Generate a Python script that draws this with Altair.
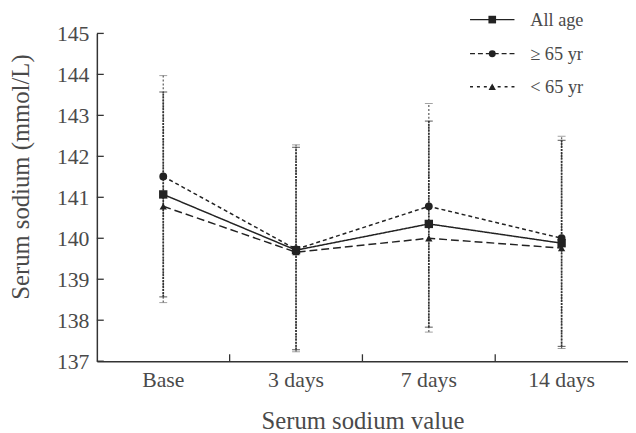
import altair as alt
import pandas as pd

days = ["Base", "3 days", "7 days", "14 days"]
series = ["All age", "≥ 65 yr", "< 65 yr"]
mean_all = [141.07, 139.71, 140.35, 139.88]
mean_old = [141.51, 139.73, 140.78, 140.00]
mean_young = [140.78, 139.66, 140.00, 139.76]
err_all_lo = [138.57, 137.28, 137.83, 137.36]
err_all_hi = [143.57, 142.22, 142.86, 142.39]
err_old_lo = [138.43, 137.23, 137.71, 137.31]
err_old_hi = [143.97, 142.28, 143.29, 142.49]
y_ticks = [137, 138, 139, 140, 141, 142, 143, 144, 145]

FONT = "Liberation Serif"
TXT = "#4a4a4a"
INK = "#222222"
W, H = 538, 332
YT = "Serum sodium (mmol/L)"

rows = []
for s, vals in zip(series, [mean_all, mean_old, mean_young]):
    for d, v in zip(days, vals):
        rows.append({"series": s, "day": d, "value": v})
df = pd.DataFrame(rows)

err_all = pd.DataFrame({"day": days, "lo": err_all_lo, "hi": err_all_hi})
err_old = pd.DataFrame({"day": days, "lo": err_old_lo, "hi": err_old_hi})

xscale = alt.Scale(type="band", domain=days, paddingInner=0, paddingOuter=0)
yscale = alt.Scale(domain=[137, 145], nice=False, zero=False)

xenc = alt.X("day:N", scale=xscale, sort=days, bandPosition=0.5,
             title="Serum sodium value",
             axis=alt.Axis(labelAngle=0, tickSize=0, labelPadding=9, titlePadding=18))
yaxis = alt.Axis(values=y_ticks, tickSize=0, labelPadding=8, titlePadding=23, grid=False, titleY=145)


def yenc(field):
    return alt.Y(f"{field}:Q", scale=yscale, axis=yaxis, title=YT)


dash_scale = alt.Scale(domain=series, range=[[1, 0], [4, 3], [8, 4]])
shape_scale = alt.Scale(domain=series, range=["square", "circle", "triangle-up"])
size_scale = alt.Scale(domain=series, range=[72, 55, 60])

# error bars
bar_all = alt.Chart(err_all).mark_rule(color="#333333", strokeWidth=1.7, strokeDash=[2, 1]).encode(
    x=xenc, y=yenc("lo"), y2="hi:Q")
bar_old = alt.Chart(err_old).mark_rule(color="#666666", strokeWidth=1.3, strokeDash=[2, 2]).encode(
    x=xenc, y=yenc("lo"), y2="hi:Q")
cap_all_hi = alt.Chart(err_all).mark_tick(color="#333333", size=8, thickness=1.2).encode(x=xenc, y=yenc("hi"))
cap_all_lo = alt.Chart(err_all).mark_tick(color="#333333", size=8, thickness=1.2).encode(x=xenc, y=yenc("lo"))
cap_old_hi = alt.Chart(err_old).mark_tick(color="#777777", size=8, thickness=1, strokeDash=[1.5, 1.5]).encode(x=xenc, y=yenc("hi"))
cap_old_lo = alt.Chart(err_old).mark_tick(color="#777777", size=8, thickness=1, strokeDash=[1.5, 1.5]).encode(x=xenc, y=yenc("lo"))

lines = alt.Chart(df).mark_line(color=INK, strokeWidth=1.5).encode(
    x=xenc, y=yenc("value"),
    detail="series:N",
    strokeDash=alt.StrokeDash("series:N", scale=dash_scale, legend=None),
)
points = alt.Chart(df).mark_point(filled=True, color=INK, opacity=1).encode(
    x=xenc, y=yenc("value"),
    shape=alt.Shape("series:N", scale=shape_scale, legend=None),
    size=alt.Size("series:N", scale=size_scale, legend=None),
)

# inward ticks
ytick_df = pd.DataFrame({"value": y_ticks})
yticks = alt.Chart(ytick_df).mark_rule(color="#333333", strokeWidth=1.3).encode(
    y=yenc("value"), x=alt.value(0), x2=alt.value(7))
xtick_df = pd.DataFrame({"day": days[1:]})
xticks = alt.Chart(xtick_df).mark_rule(color="#333333", strokeWidth=1.3).encode(
    x=alt.X("day:N", scale=xscale, sort=days, bandPosition=0, title="Serum sodium value"),
    y=alt.value(H), y2=alt.value(H - 7))

# manual legend
leg_y = [-14, 20.5, 54]
leg_dash = [[1, 0], [5, 3], [3, 4]]
leg_shape = ["square", "circle", "triangle-up"]
leg_size = [60, 50, 55]
legend_layers = []
for s, yy, dsh, shp, sz in zip(series, leg_y, leg_dash, leg_shape, leg_size):
    one = pd.DataFrame({"label": [s]})
    base = alt.Chart(one)
    legend_layers.append(base.mark_rule(color=INK, strokeWidth=1.4, strokeDash=dsh).encode(
        x=alt.value(378), x2=alt.value(423), y=alt.value(yy)))
    legend_layers.append(base.mark_point(filled=True, color=INK, opacity=1, shape=shp, size=sz).encode(
        x=alt.value(400.5), y=alt.value(yy)))
    legend_layers.append(base.mark_text(align="left", baseline="middle", font=FONT, fontSize=18.5,
                                        color=TXT).encode(
        text="label:N", x=alt.value(439), y=alt.value(yy)))

chart = alt.layer(
    bar_old, bar_all, cap_old_hi, cap_old_lo, cap_all_hi, cap_all_lo,
    lines, points, yticks, xticks, *legend_layers
).properties(
    width=W, height=H,
    autosize=alt.AutoSizeParams(type="none"),
    padding={"left": 90, "top": 23, "right": 0, "bottom": 70},
).configure_view(stroke=None).configure_axis(
    labelFont=FONT, titleFont=FONT, labelFontSize=22, titleFontSize=25,
    labelColor=TXT, titleColor=TXT, titleFontWeight="normal",
    domainColor="#333333", domainWidth=1.5, grid=False,
)

chart.save("out.html", embed_options={"renderer": "svg", "actions": False})
